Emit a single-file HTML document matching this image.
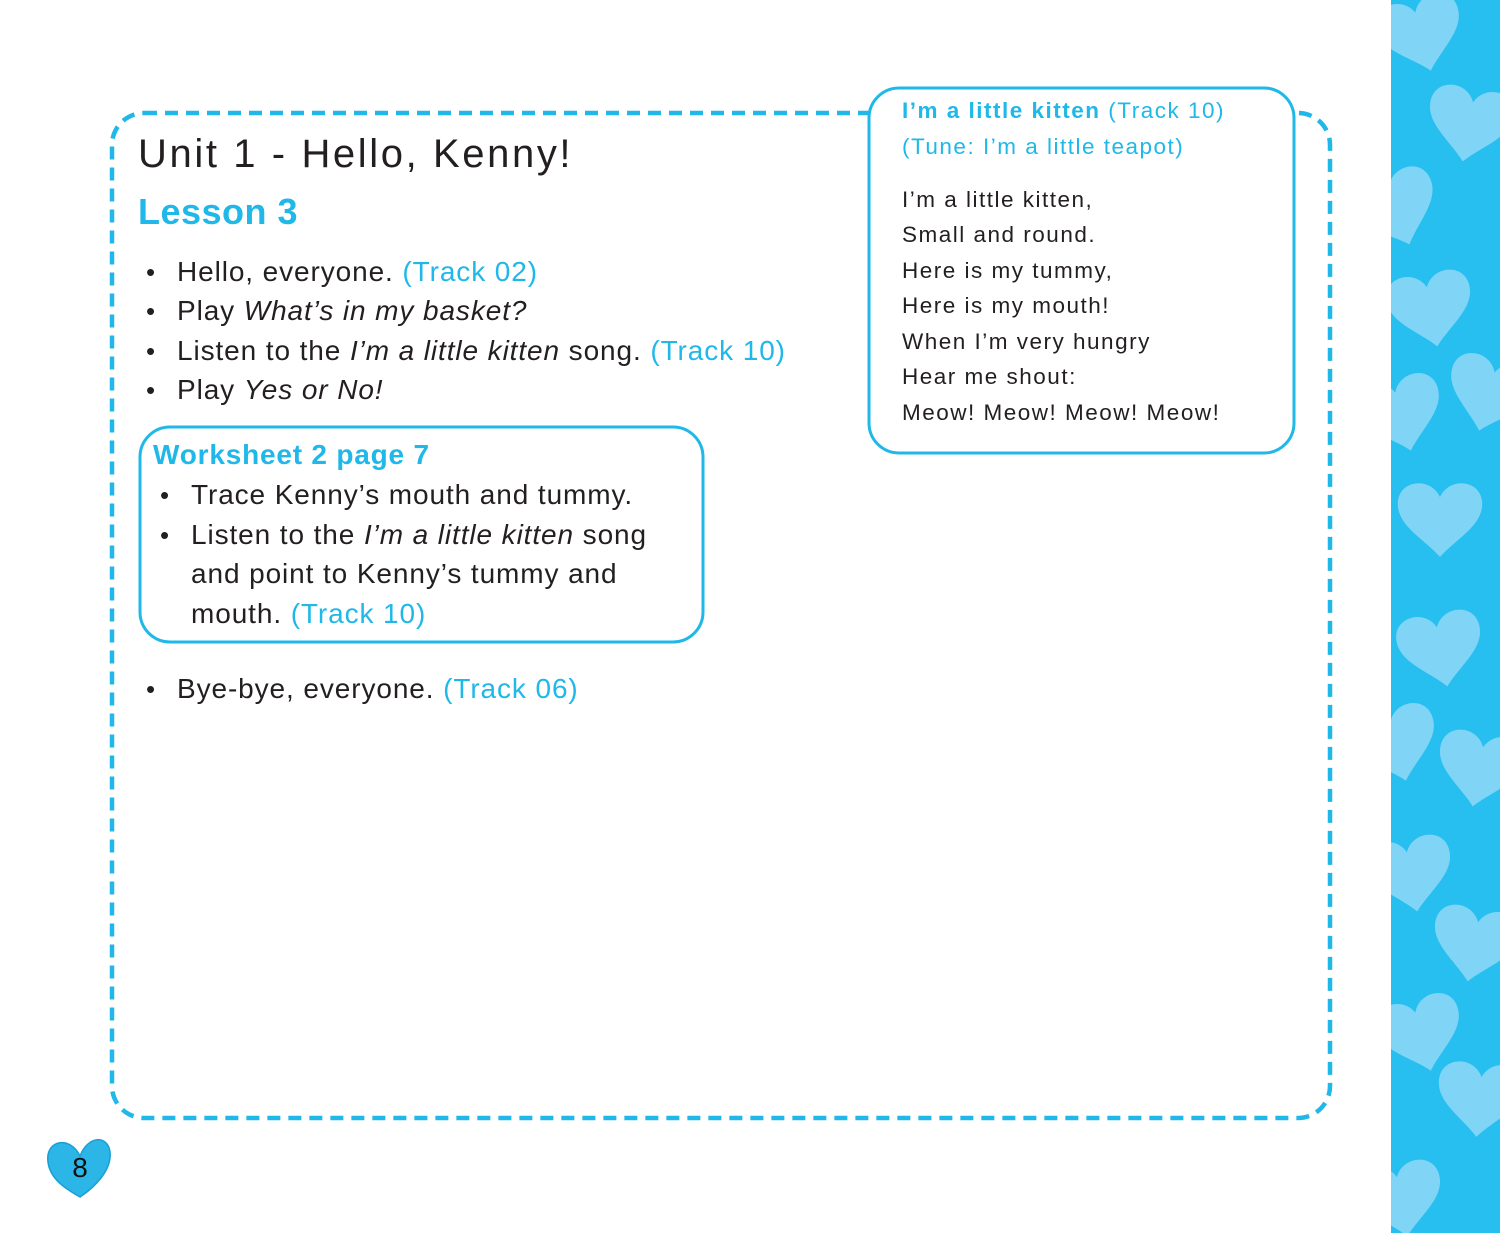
<!DOCTYPE html>
<html><head><meta charset="utf-8"><style>
body{margin:0;width:1500px;height:1233px;position:relative;background:#fff;overflow:hidden;font-family:"Liberation Sans",sans-serif;color:#231f20}
.t{position:absolute;white-space:nowrap;line-height:1}
.b{color:#1fb8e8}
.m{font-size:28px;letter-spacing:0.9px}
.s{font-size:22.5px;letter-spacing:1.5px}
.bu{position:absolute;font-size:26px;line-height:1}
</style></head><body>
<svg width="1500" height="1233" style="position:absolute;left:0;top:0">
<defs>
<path id="h" d="M0,-18 C-10,-40 -45,-35 -42,-8 C-40,12 -15,25 0,42 C15,25 40,12 42,-8 C45,-35 10,-40 0,-18Z" fill="#80d4f6"/>
<clipPath id="c"><rect x="1391" y="0" width="109" height="1233"/></clipPath>
</defs>
<rect x="1391" y="0" width="109" height="1233" fill="#27bff0"/>
<g clip-path="url(#c)">
<use href="#h" transform="translate(1420,30) rotate(-15)"/>
<use href="#h" transform="translate(1470,120) rotate(10)"/>
<use href="#h" transform="translate(1395,205) rotate(-20)"/>
<use href="#h" transform="translate(1430,305) rotate(-10)"/>
<use href="#h" transform="translate(1490,390) rotate(15)"/>
<use href="#h" transform="translate(1400,410) rotate(-15)"/>
<use href="#h" transform="translate(1440,515) rotate(0)"/>
<use href="#h" transform="translate(1440,645) rotate(-10)"/>
<use href="#h" transform="translate(1480,765) rotate(10)"/>
<use href="#h" transform="translate(1395,740) rotate(-15)"/>
<use href="#h" transform="translate(1410,870) rotate(-10)"/>
<use href="#h" transform="translate(1475,940) rotate(10)"/>
<use href="#h" transform="translate(1420,1030) rotate(-15)"/>
<use href="#h" transform="translate(1480,1095) rotate(5)"/>
<use href="#h" transform="translate(1400,1195) rotate(-10)"/>
</g>
<rect x="112" y="113" width="1218" height="1005" rx="32" fill="none" stroke="#1fb8e8" stroke-width="4.5" stroke-dasharray="13 8"/>
<rect x="869" y="88" width="425" height="365" rx="30" fill="#fff" stroke="#1fb8e8" stroke-width="3"/>
<rect x="140" y="427" width="563" height="215" rx="30" fill="#fff" stroke="#1fb8e8" stroke-width="3"/>
<path d="M80,1156 C70,1135 45,1140 48,1162 C50,1180 68,1190 80,1197 C95,1187 112,1170 110,1152 C108,1135 88,1135 80,1156Z" fill="#2cb6e8" stroke="#1a9fd4" stroke-width="1.5"/>
<text x="80" y="1177" font-family="Liberation Sans" font-size="28" text-anchor="middle" fill="#111">8</text>
</svg>
<div class="t" style="left:138px;top:134px;font-size:40px;letter-spacing:2.6px">Unit 1 - Hello, Kenny!</div>
<div class="t b" style="left:138px;top:194px;font-size:36px;font-weight:bold;letter-spacing:0.5px">Lesson 3</div>

<div class="bu" style="left:146px;top:259px">•</div><div class="t m" style="left:177px;top:258px">Hello, everyone. <span class="b">(Track 02)</span></div>
<div class="bu" style="left:146px;top:298px">•</div><div class="t m" style="left:177px;top:297px">Play <i>What’s in my basket?</i></div>
<div class="bu" style="left:146px;top:338px">•</div><div class="t m" style="left:177px;top:337px">Listen to the <i>I’m a little kitten</i> song. <span class="b">(Track 10)</span></div>
<div class="bu" style="left:146px;top:377px">•</div><div class="t m" style="left:177px;top:376px">Play <i>Yes or No!</i></div>

<div class="t b" style="left:153px;top:441px;font-size:28px;font-weight:bold;letter-spacing:0.8px">Worksheet 2 page 7</div>
<div class="bu" style="left:160px;top:482px">•</div><div class="t m" style="left:191px;top:481px">Trace Kenny’s mouth and tummy.</div>
<div class="bu" style="left:160px;top:522px">•</div><div class="t m" style="left:191px;top:521px">Listen to the <i>I’m a little kitten</i> song</div>
<div class="t m" style="left:191px;top:560px">and point to Kenny’s tummy and</div>
<div class="t m" style="left:191px;top:600px">mouth. <span class="b">(Track 10)</span></div>

<div class="bu" style="left:146px;top:676px">•</div><div class="t m" style="left:177px;top:675px">Bye-bye, everyone. <span class="b">(Track 06)</span></div>

<div class="t b s" style="left:902px;top:100px"><b>I’m a little kitten</b> (Track 10)</div>
<div class="t b s" style="left:902px;top:136px">(Tune: I’m a little teapot)</div>
<div class="t s" style="left:902px;top:189px">I’m a little kitten,</div>
<div class="t s" style="left:902px;top:224px">Small and round.</div>
<div class="t s" style="left:902px;top:260px">Here is my tummy,</div>
<div class="t s" style="left:902px;top:295px">Here is my mouth!</div>
<div class="t s" style="left:902px;top:331px">When I’m very hungry</div>
<div class="t s" style="left:902px;top:366px">Hear me shout:</div>
<div class="t s" style="left:902px;top:402px">Meow! Meow! Meow! Meow!</div>
</body></html>
